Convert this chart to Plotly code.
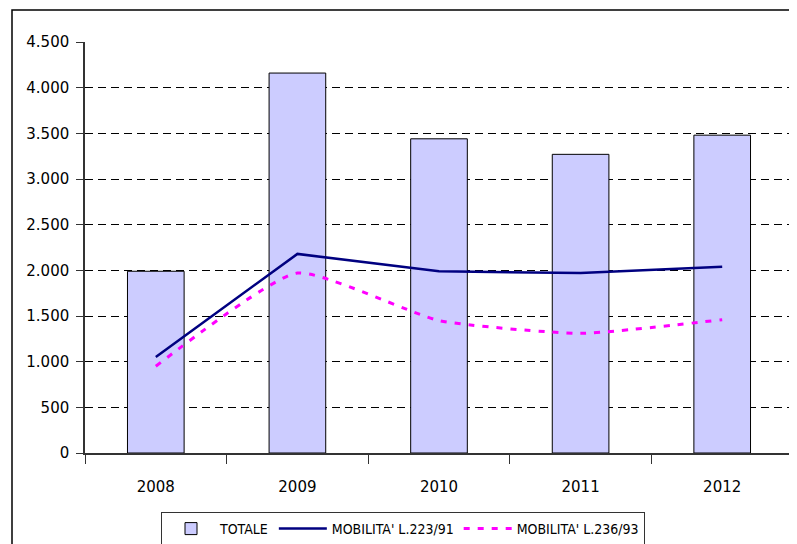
import plotly.graph_objects as go

years = ["2008", "2009", "2010", "2011", "2012"]
totale = [1990, 4160, 3440, 3270, 3480]
mob_223 = [1050, 2180, 1990, 1970, 2040]
mob_236 = [950, 1970, 1450, 1310, 1460]
y_ticks = [0, 500, 1000, 1500, 2000, 2500, 3000, 3500, 4000, 4500]

W, H = 797, 544
OFF = 8  # page body margin
L, T = 85 - OFF, 42 - OFF
R = W - (793 - OFF)
B = H - (453 - OFF)
pw, ph = W - L - R, H - T - B

fig = go.Figure()
fig.add_trace(go.Bar(
    x=years, y=totale, name="TOTALE", width=0.4,
    marker=dict(color="#CCCCFF", line=dict(color="#000000", width=1)),
))
fig.add_trace(go.Scatter(
    x=years, y=mob_223, name="MOBILITA' L.223/91", mode="lines",
    line=dict(color="#000080", width=2.5),
))
fig.add_trace(go.Scatter(
    x=years, y=mob_236, name="MOBILITA' L.236/93", mode="lines",
    line=dict(color="#FF00FF", width=3, dash="6px,8px", shape="spline", smoothing=0.5),
))

def px_x(p):
    return (p - OFF - L) / pw

def px_y(p):
    return (H - B - (p - OFF)) / ph

fig.update_layout(
    width=W, height=H,
    margin=dict(l=L, r=R, t=T, b=B, autoexpand=False),
    paper_bgcolor="white", plot_bgcolor="white",
    separators=",.",
    font=dict(family="DejaVu Sans", size=14, color="#000000"),
    showlegend=True,
    legend=dict(
        orientation="h", xref="container", yref="container",
        x=(403 - OFF) / W, xanchor="center", y=1 - (512 - OFF) / H, yanchor="top",
        bordercolor="#333333", borderwidth=1, bgcolor="white",
        font=dict(family="DejaVu Sans Condensed", size=14),
        tracegroupgap=0, itemwidth=48,
    ),
    shapes=[
        dict(type="rect", xref="paper", yref="paper",
             x0=px_x(12), x1=px_x(840), y0=px_y(600), y1=px_y(10),
             line=dict(color="#000000", width=1.5), fillcolor="rgba(0,0,0,0)", layer="below"),
        dict(type="line", xref="paper", yref="paper",
             x0=1, x1=1, y0=0, y1=1, line=dict(color="#999999", width=1)),
    ],
    xaxis=dict(
        type="category", showline=True, linecolor="#333333", linewidth=1.5,
        ticks="outside", tickson="boundaries", ticklen=9, tickcolor="#333333",
        ticklabelstandoff=19, showgrid=False, automargin=False,
        tickfont=dict(family="DejaVu Sans", size=15),
    ),
    yaxis=dict(
        range=[0, 4500], tickvals=y_ticks, tickformat=",d",
        showline=True, linecolor="#333333", linewidth=1.5,
        ticks="outside", ticklen=7, tickcolor="#333333", ticklabelstandoff=4,
        showgrid=True, gridcolor="#000000", gridwidth=1, griddash="8px,5px",
        zeroline=False, automargin=False,
        tickfont=dict(family="DejaVu Sans", size=15),
    ),
)

fig.write_html("out.html")
